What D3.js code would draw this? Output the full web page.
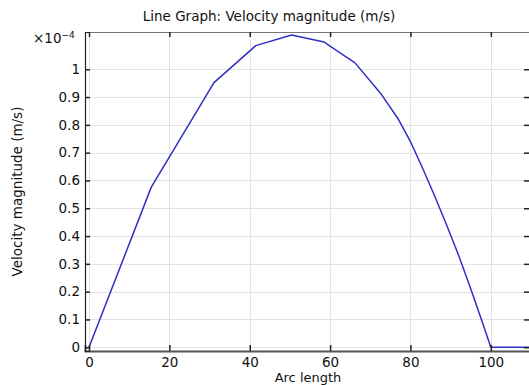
<!DOCTYPE html>
<html>
<head>
<meta charset="utf-8">
<script src="https://cdn.jsdelivr.net/npm/d3@7"></script>
<style>
  html, body { margin: 0; padding: 0; background: #fff; }
  svg { display: block; font-family: "DejaVu Sans", sans-serif; }
</style>
</head>
<body>
<svg id="chart" width="529" height="385"></svg>
<script>
// Data (arc length, velocity magnitude in m/s)
const arcLength = [0, 15.5, 31.1, 41.5, 50.4, 58.5, 66.2, 72.8, 77, 80, 83, 86, 89, 92, 95, 98, 100, 110];
const velocity  = [0, 0.576e-4, 0.952e-4, 1.085e-4, 1.123e-4, 1.098e-4, 1.023e-4, 0.909e-4, 0.82e-4, 0.74e-4, 0.645e-4, 0.545e-4, 0.44e-4, 0.33e-4, 0.21e-4, 0.085e-4, 0, 0];
const xTicks = [0, 20, 40, 60, 80, 100];
const yTicks = [0, 0.1e-4, 0.2e-4, 0.3e-4, 0.4e-4, 0.5e-4, 0.6e-4, 0.7e-4, 0.8e-4, 0.9e-4, 1e-4];
const yScaleFactor = 1e-4;
const titleText = "Line Graph: Velocity magnitude (m/s)";
const xTitle = "Arc length";
const yTitle = "Velocity magnitude (m/s)";

const svg = d3.select("#chart");
const L = 85, R = 531, T = 32, B = 351;
const FS = 13.5;

const x = d3.scaleLinear().domain([-1, 110]).range([L, R]);
const y = d3.scaleLinear().domain([-0.0135e-4, 1.134e-4]).range([B, T]);

// grid
const grid = svg.append("g").attr("stroke", "#e3e3e3").attr("stroke-width", 1);
grid.selectAll("line.gx").data(xTicks).join("line")
  .attr("x1", d => Math.round(x(d)) + 0.5).attr("x2", d => Math.round(x(d)) + 0.5)
  .attr("y1", T).attr("y2", B);
grid.selectAll("line.gy").data(yTicks).join("line")
  .attr("y1", d => Math.round(y(d)) + 0.5).attr("y2", d => Math.round(y(d)) + 0.5)
  .attr("x1", L).attr("x2", R);

// frame lines
svg.append("line").attr("x1", L).attr("x2", R).attr("y1", T + 0.5).attr("y2", T + 0.5)
  .attr("stroke", "#777").attr("stroke-width", 1.2);
svg.append("line").attr("x1", R - 1).attr("x2", R - 1).attr("y1", T).attr("y2", B)
  .attr("stroke", "#777").attr("stroke-width", 1.2);

// line
const line = d3.line().x((d, i) => x(arcLength[i])).y(d => y(d));
svg.append("path").datum(velocity)
  .attr("fill", "none").attr("stroke", "#2f2fc4").attr("stroke-width", 1.5)
  .attr("stroke-linejoin", "round")
  .attr("d", line);

// bottom axis
const xAxis = d3.axisBottom(x).tickValues(xTicks).tickSize(-6).tickPadding(6).tickFormat(d3.format("d"));
const gx = svg.append("g").attr("transform", `translate(0,${B})`).call(xAxis);
gx.select(".domain").attr("stroke", "#555").attr("stroke-width", 2);
gx.selectAll(".tick line").attr("stroke", "#222").attr("stroke-width", 1.5);
gx.selectAll(".tick text").attr("font-size", FS).attr("fill", "#111").attr("font-family", "DejaVu Sans");

// top ticks
const xTop = d3.axisTop(x).tickValues(xTicks).tickSize(-5).tickFormat("");
const gxt = svg.append("g").attr("transform", `translate(0,${T})`).call(xTop);
gxt.select(".domain").remove();
gxt.selectAll(".tick line").attr("stroke", "#222").attr("stroke-width", 1.5);

// left axis
const yAxis = d3.axisLeft(y).tickValues(yTicks).tickSize(-5).tickPadding(5)
  .tickFormat(d => d3.format("~g")(+(d / yScaleFactor).toFixed(2)));
const gy = svg.append("g").attr("transform", `translate(${L},0)`).call(yAxis);
gy.select(".domain").attr("stroke", "#222").attr("stroke-width", 1.2);
gy.selectAll(".tick line").attr("stroke", "#222").attr("stroke-width", 1.5);
gy.selectAll(".tick text").attr("font-size", FS).attr("fill", "#111").attr("font-family", "DejaVu Sans");

// right ticks
const yRight = d3.axisRight(y).tickValues(yTicks).tickSize(-6).tickFormat("");
const gyr = svg.append("g").attr("transform", `translate(${R - 1},0)`).call(yRight);
gyr.select(".domain").remove();
gyr.selectAll(".tick line").attr("stroke", "#222").attr("stroke-width", 1.5);

// exponent label
const ex = svg.append("text").attr("x", 33).attr("y", 43).attr("font-size", FS).attr("fill", "#111");
ex.append("tspan").text("×10");
ex.append("tspan").attr("dy", -5).attr("font-size", 9).text("−4");

// titles
svg.append("text").attr("x", 269).attr("y", 21).attr("text-anchor", "middle")
  .attr("font-size", FS).attr("fill", "#111").text(titleText);
svg.append("text").attr("x", (L + R) / 2).attr("y", 381.5).attr("text-anchor", "middle")
  .attr("font-size", 13).attr("fill", "#111").text(xTitle);
svg.append("text").attr("transform", `translate(22,${(T + B) / 2}) rotate(-90)`)
  .attr("text-anchor", "middle").attr("font-size", FS).attr("fill", "#111").text(yTitle);
</script>
</body>
</html>
